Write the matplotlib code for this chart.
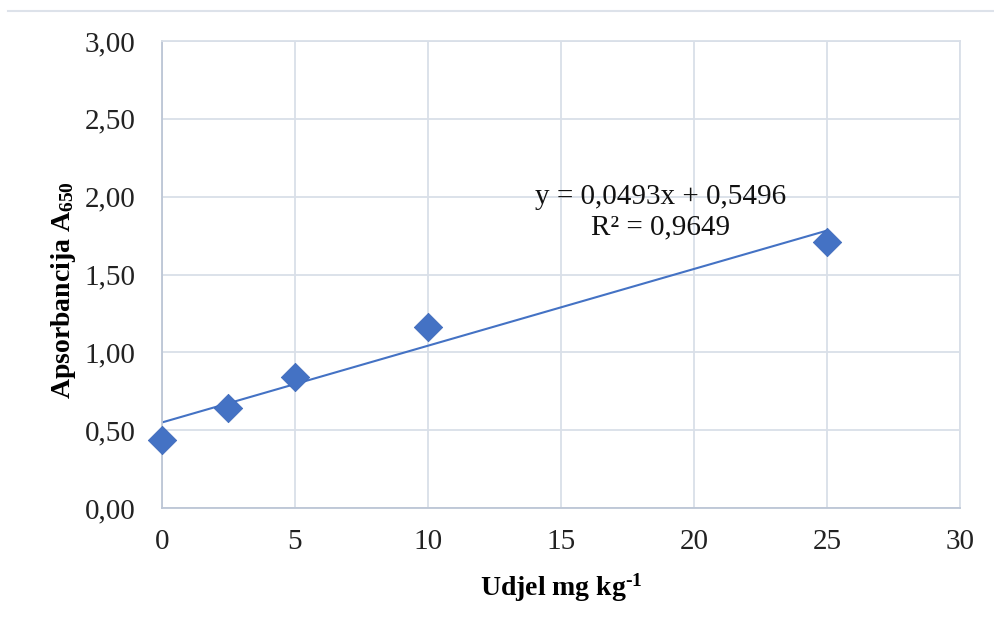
import matplotlib.pyplot as plt
from matplotlib.ticker import FuncFormatter
from matplotlib.lines import Line2D

# concentration (mg/kg) and absorbance at 650 nm
udjel = [0, 2.5, 5, 10, 25]
apsorbancija = [0.44, 0.64, 0.84, 1.16, 1.71]

# linear trendline reported on the chart
slope = 0.0493
intercept = 0.5496
r2 = 0.9649

x_ticks = [0, 5, 10, 15, 20, 25, 30]
y_ticks = [0.0, 0.5, 1.0, 1.5, 2.0, 2.5, 3.0]

blue = '#4472C4'
grid_col = '#D9DFE8'
axis_col = '#BCC6D6'

plt.rcParams['font.family'] = ['Liberation Serif', 'DejaVu Serif']
plt.rcParams['mathtext.fontset'] = 'custom'
plt.rcParams['mathtext.rm'] = 'Liberation Serif'
plt.rcParams['mathtext.bf'] = 'Liberation Serif:bold'
plt.rcParams['mathtext.it'] = 'Liberation Serif:italic'

fig = plt.figure(figsize=(9.95, 6.32), dpi=100)
ax = fig.add_axes([162 / 995, 1 - 508 / 632, (960 - 162) / 995, (508 - 41) / 632])

ax.set_xlim(0, 30)
ax.set_ylim(0, 3)
ax.set_xticks(x_ticks)
ax.set_yticks(y_ticks)
ax.yaxis.set_major_formatter(FuncFormatter(lambda v, p: f"{v:.2f}".replace('.', ',')))
ax.grid(True, color=grid_col, linewidth=1.3)
ax.set_axisbelow(True)
for side in ['top', 'right']:
    ax.spines[side].set_color(grid_col)
    ax.spines[side].set_linewidth(1.3)
for side in ['left', 'bottom']:
    ax.spines[side].set_color(axis_col)
    ax.spines[side].set_linewidth(1.3)
ax.tick_params(length=0, labelsize=21, colors='#222222')
ax.tick_params(axis='y', pad=19)
ax.tick_params(axis='x', pad=15)

# trendline over the data range
x0, x1 = min(udjel), max(udjel)
ax.plot([x0, x1], [intercept + slope * x0, intercept + slope * x1],
        color=blue, linewidth=1.5, zorder=2)
ax.scatter(udjel, apsorbancija, marker='D', s=210, color=blue,
           edgecolors='#3A66B8', linewidths=0.5, zorder=3, clip_on=False)

eq = f"y = {slope:.4f}x + {intercept:.4f}".replace('.', ',')
ax.text(18.76, 1.90, eq + "\n" + f"R² = {r2:.4f}".replace('.', ','),
        fontsize=21, ha='center', va='center', linespacing=1.2, color='#111111')

ax.set_ylabel(r"Apsorbancija A$_{\mathbf{650}}$", fontsize=20, fontweight='bold')
ax.yaxis.set_label_coords(-0.105, 0.467)
ax.set_xlabel("Udjel mg kg$^{\\mathbf{\u20101}}$", fontsize=20, fontweight='bold', labelpad=12)

# thin separator line at the top of the image
fig.add_artist(Line2D([8 / 995, 1], [1 - 11 / 632, 1 - 11 / 632],
                      transform=fig.transFigure, color='#DDE2EA', linewidth=1.5))

fig.savefig('out.png', dpi=100)
